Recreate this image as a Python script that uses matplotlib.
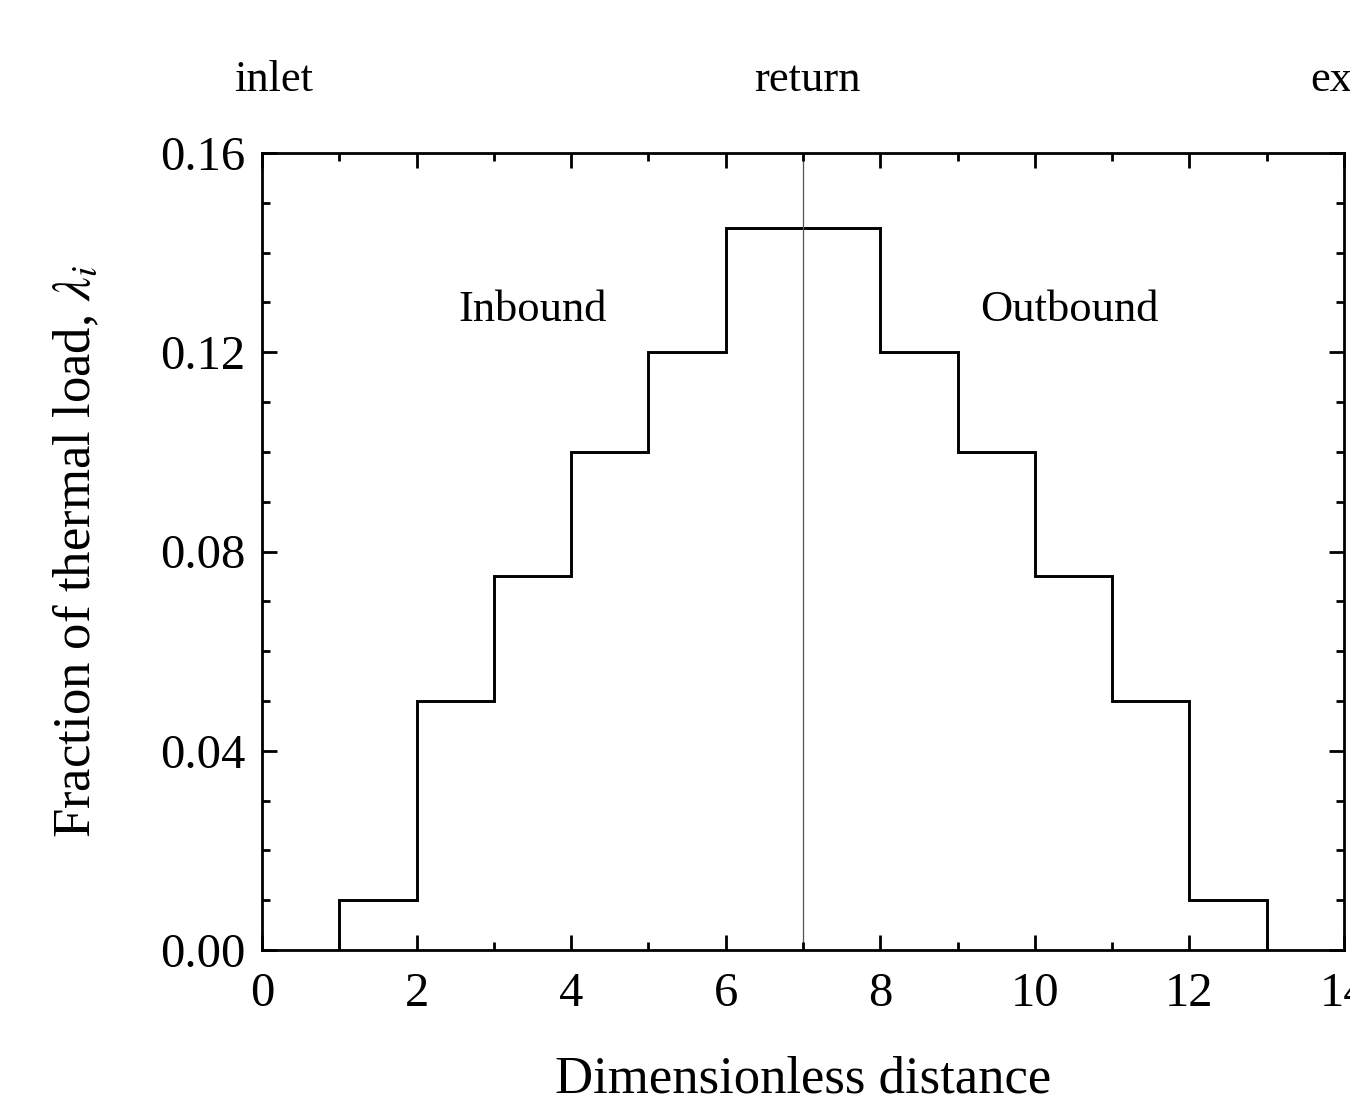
import matplotlib
matplotlib.use("Agg")
import matplotlib.pyplot as plt
from matplotlib.ticker import MultipleLocator
import numpy as np

edges = [1, 2, 3, 4, 5, 6, 7, 8, 9, 10, 11, 12, 13]
fractions = [0.01, 0.05, 0.075, 0.10, 0.12, 0.145, 0.145, 0.12, 0.10, 0.075, 0.05, 0.01]
top_labels = ["inlet", "return", "exit"]
top_label_x = [0.15, 7.05, 14.0]
region_labels = ["Inbound", "Outbound"]
region_x = [3.5, 10.45]
region_y = 0.1285

plt.rcParams['font.family'] = ['Liberation Serif', 'DejaVu Serif']
plt.rcParams['mathtext.fontset'] = 'stix'

fig = plt.figure(figsize=(13.5, 11.01), dpi=100)
ax = fig.add_axes([262/1350, 1-950/1101, (1344-262)/1350, (950-153)/1101])

ax.stairs(fractions, edges, baseline=0, color='black', lw=2.1)
ax.axvline(7, color='#555555', lw=0.9, zorder=1)

ax.set_xlim(0, 14)
ax.set_ylim(0, 0.16)
ax.xaxis.set_major_locator(MultipleLocator(2))
ax.xaxis.set_minor_locator(MultipleLocator(1))
ax.yaxis.set_major_locator(MultipleLocator(0.04))
ax.yaxis.set_minor_locator(MultipleLocator(0.01))
ax.yaxis.set_major_formatter(matplotlib.ticker.FormatStrFormatter('%.2f'))
ax.tick_params(which='both', direction='in', top=True, right=True, width=2.0, labelsize=35)
ax.tick_params(which='major', length=11)
ax.tick_params(axis='y', which='major', pad=12)
ax.tick_params(axis='x', which='major', pad=16)
ax.tick_params(which='minor', length=5.5)
for s in ax.spines.values():
    s.set_linewidth(2.0)

ax.set_xlabel("Dimensionless distance", fontsize=38, labelpad=28)
ax.set_ylabel(r"Fraction of thermal load, $\lambda_i$", fontsize=38, labelpad=42)

for lab, x in zip(top_labels, top_label_x):
    ax.text(x, 0.1747, lab, ha='center', va='center', fontsize=32, clip_on=False)
for lab, x in zip(region_labels, region_x):
    ax.text(x, region_y, lab, ha='center', va='center', fontsize=32)

fig.savefig("out.png", dpi=100)
